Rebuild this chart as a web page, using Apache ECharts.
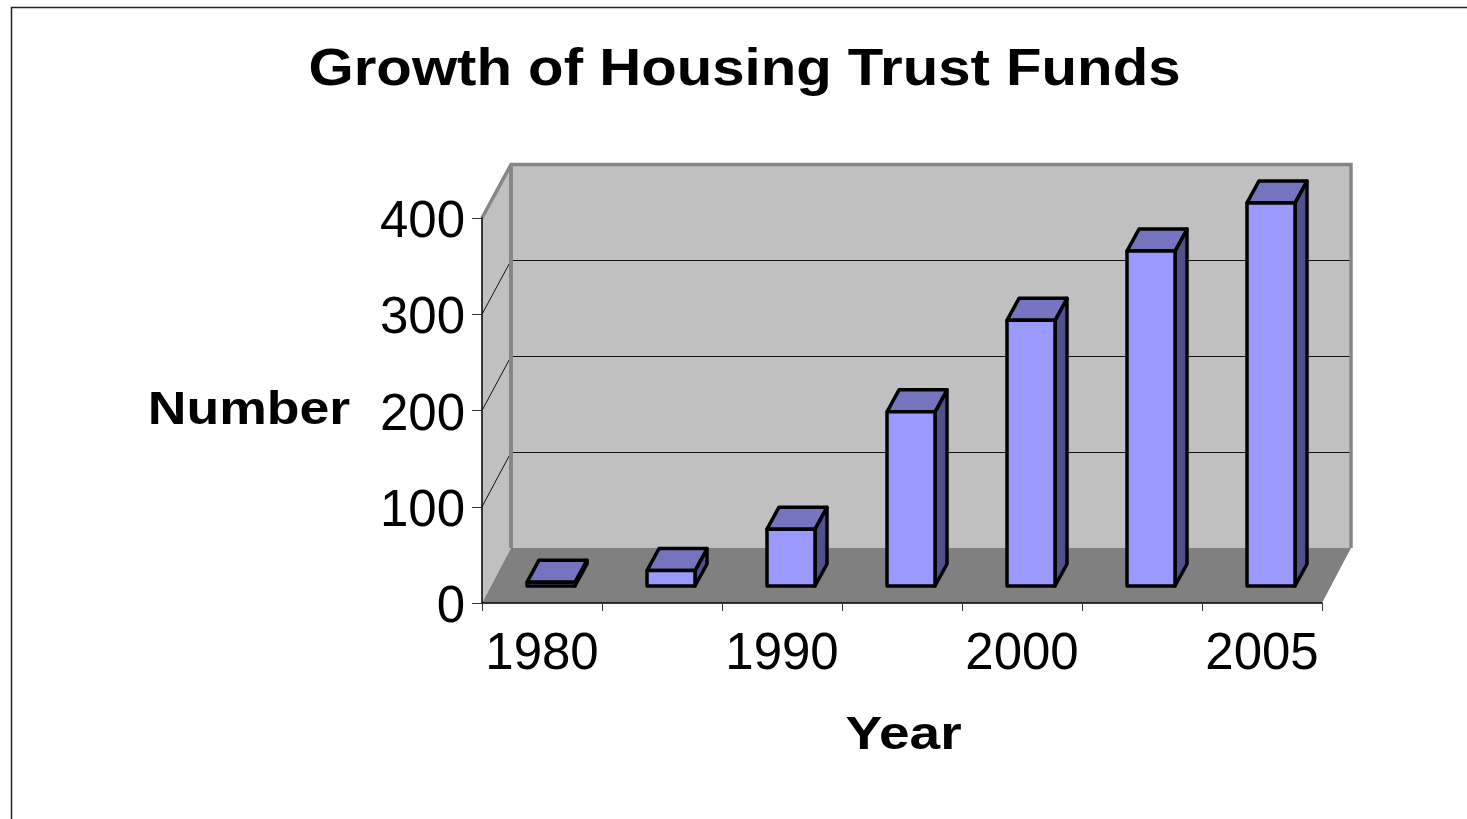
<!DOCTYPE html>
<html>
<head>
<meta charset="utf-8">
<title>Growth of Housing Trust Funds</title>
<script src="https://cdn.jsdelivr.net/npm/echarts@6/dist/echarts.min.js"></script>
<style>
  html, body { margin: 0; padding: 0; background: #fff; }
  #chart { width: 1467px; height: 819px; }
</style>
</head>
<body>
<div id="chart"></div>
<script>
// Number of housing trust funds by year
const categories = ['1980', '1985', '1990', '1995', '2000', '2003', '2005'];
const tickLabels = ['1980', '', '1990', '', '2000', '', '2005'];
const fundCounts = [4, 16, 59, 181, 276, 348, 398];
const gridValues = [100, 200, 300];

// Projection of the pseudo-3D box
const wallShift = [29, -55];
const wallTopShift = -53.5;
const gridShift = -54.5;
const barShift = [9, -17];
const barDepth = [12, -22];
const barWidth = 48;

const fontStack = '"Liberation Sans", Arial, sans-serif';
const chart = echarts.init(document.getElementById('chart'));

function poly(points, fill, stroke, lineWidth) {
  return {
    type: 'polygon',
    shape: { points },
    style: { fill, stroke: stroke || fill, lineWidth: lineWidth || 0, lineJoin: 'round' }
  };
}

function renderWalls(params, api) {
  const cs = params.coordSys;
  const left = cs.x, right = cs.x + cs.width, top = cs.y, bottom = cs.y + cs.height;
  const [dx, dy] = wallShift;
  const backTop = top + wallTopShift;
  const children = [
    poly([[left + dx, backTop], [right + dx, backTop], [right + dx, bottom + dy], [left + dx, bottom + dy]], '#c0c0c0'),
    poly([[left, top], [left + dx, backTop], [left + dx, bottom + dy], [left, bottom]], '#c0c0c0'),
    poly([[left, bottom], [left + dx, bottom + dy], [right + dx, bottom + dy], [right, bottom]], '#808080')
  ];
  gridValues.forEach(v => {
    const y = api.coord([0, v])[1];
    const backY = Math.round(y + gridShift) + 0.5;
    children.push({
      type: 'polyline',
      shape: { points: [[left, y], [left + dx, backY], [right + dx, backY]] },
      style: { fill: null, stroke: '#111', lineWidth: 1 }
    });
  });
  children.push({
    type: 'polyline',
    shape: { points: [[left, top], [left + dx, backTop], [right + dx, backTop], [right + dx, bottom + dy]] },
    style: { fill: null, stroke: '#868686', lineWidth: 3.5 }
  });
  children.push({
    type: 'line',
    shape: { x1: left + dx, y1: backTop, x2: left + dx, y2: bottom + dy },
    style: { stroke: '#868686', lineWidth: 4 }
  });
  return { type: 'group', children };
}

function renderBar(params, api) {
  const base = api.coord([api.value(0), 0]);
  const tip = api.coord([api.value(0), api.value(1)]);
  const x0 = base[0] + barShift[0] - barWidth / 2;
  const x1 = x0 + barWidth;
  const yb = base[1] + barShift[1];
  const yt = tip[1] + barShift[1];
  const [dx, dy] = barDepth;
  return {
    type: 'group',
    children: [
      poly([[x1, yb], [x1 + dx, yb + dy], [x1 + dx, yt + dy], [x1, yt]], '#51518c', '#000', 3.5),
      poly([[x0, yt], [x0 + dx, yt + dy], [x1 + dx, yt + dy], [x1, yt]], '#7575bf', '#000', 3.5),
      poly([[x0, yb], [x1, yb], [x1, yt], [x0, yt]], '#9999ff', '#000', 3.5)
    ]
  };
}

// Wide bold captions, stretched horizontally around their centre
function caption(text, x, y, fontSize, scaleX) {
  return {
    type: 'text',
    silent: true,
    x,
    y,
    scaleX,
    style: {
      text,
      fill: '#000',
      font: 'bold ' + fontSize + 'px ' + fontStack,
      textAlign: 'center',
      textVerticalAlign: 'middle'
    }
  };
}

chart.setOption({
  animation: false,
  backgroundColor: '#fff',
  textStyle: { fontFamily: fontStack },
  grid: { left: 482, right: 145, top: 218, bottom: 216, containLabel: false },
  xAxis: {
    type: 'category',
    data: categories,
    axisLine: { lineStyle: { color: '#000', width: 1.5 } },
    axisTick: { show: true, length: 8, lineStyle: { color: '#333', width: 1 } },
    axisLabel: {
      interval: 0,
      margin: 26,
      fontSize: 51,
      color: '#000',
      hideOverlap: false,
      formatter: (_, i) => tickLabels[i]
    },
    z: 5
  },
  yAxis: {
    type: 'value',
    min: 0,
    max: 400,
    interval: 100,
    axisLine: { show: true, lineStyle: { color: '#000', width: 1.5 } },
    axisTick: { show: true, length: 10, lineStyle: { color: '#333', width: 1 } },
    axisLabel: { margin: 17, fontSize: 51, color: '#000', verticalAlign: 'top', lineHeight: 10 },
    splitLine: { show: false },
    z: 5
  },
  series: [
    {
      type: 'custom',
      name: 'Walls',
      renderItem: renderWalls,
      data: [[0, 0]],
      silent: true,
      clip: false,
      z: 1
    },
    {
      type: 'custom',
      name: 'Number',
      renderItem: renderBar,
      data: fundCounts.map((v, i) => [i, v]),
      encode: { x: 0, y: 1 },
      clip: false,
      z: 3
    }
  ],
  graphic: [
    // Slide frame around the chart
    {
      type: 'polyline',
      silent: true,
      shape: { points: [[11.5, 819], [11.5, 7.5], [1467, 7.5]] },
      style: { fill: null, stroke: '#222', lineWidth: 1.5 }
    },
    caption('Growth of Housing Trust Funds', 744.5, 71, 52, 1.118),
    caption('Number', 249, 411, 47, 1.14),
    caption('Year', 903.5, 736, 47, 1.17)
  ]
});
</script>
</body>
</html>
